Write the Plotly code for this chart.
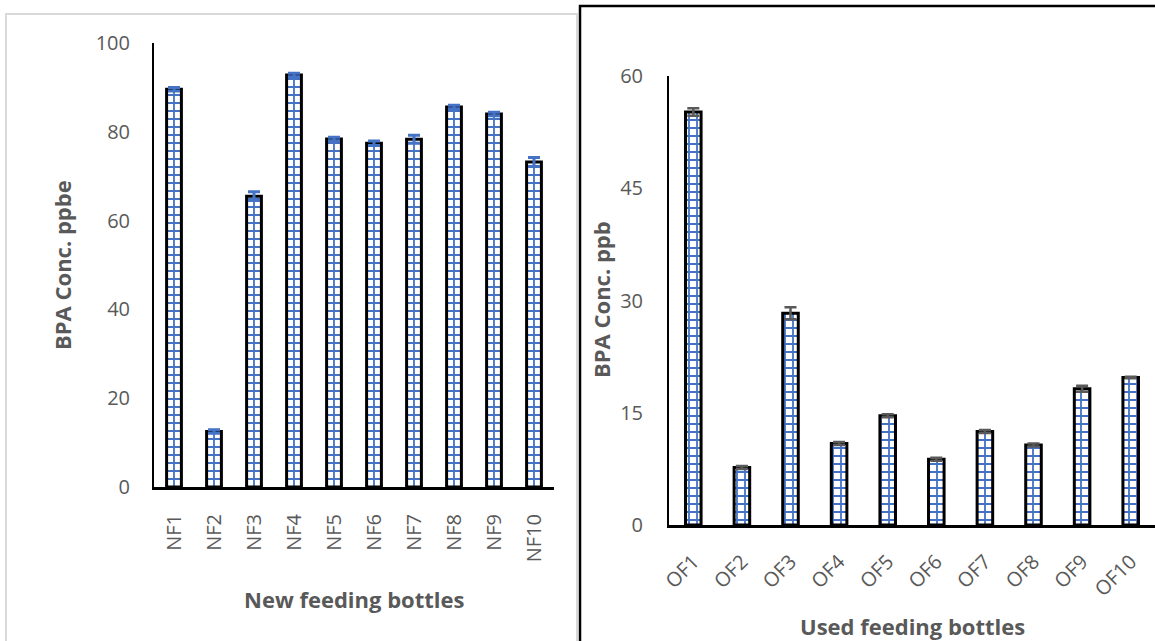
import plotly.graph_objects as go

# ---- data ----
new_labels = ["NF1", "NF2", "NF3", "NF4", "NF5", "NF6", "NF7", "NF8", "NF9", "NF10"]
new_values = [89.6, 12.5, 65.5, 92.8, 78.4, 77.4, 78.3, 85.6, 84.0, 73.2]
new_errors = [0.4, 0.4, 1.0, 0.4, 0.4, 0.5, 0.9, 0.4, 0.4, 1.0]

used_labels = ["OF1", "OF2", "OF3", "OF4", "OF5", "OF6", "OF7", "OF8", "OF9", "OF10"]
used_values = [55.2, 7.7, 28.3, 10.9, 14.6, 8.8, 12.5, 10.7, 18.2, 19.7]
used_errors = [0.5, 0.2, 0.8, 0.2, 0.2, 0.2, 0.2, 0.2, 0.4, 0.1]

left_yticks = [0, 20, 40, 60, 80, 100]
right_yticks = [0, 15, 30, 45, 60]

W, H = 1155, 641
FONT = "Open Sans, Liberation Sans, sans-serif"
GRAY = "#595959"
BLUE = "#4472C4"

def px_x(x):
    return x / W

def px_y(y):
    return (H - y) / H

pattern = dict(shape="+", fgcolor=BLUE, bgcolor="white", size=8, solidity=0.4, fillmode="replace")

fig = go.Figure()
fig.add_trace(go.Bar(
    x=new_labels, y=new_values, xaxis="x", yaxis="y",
    width=0.37,
    marker=dict(color="white", pattern=pattern, line=dict(color="black", width=3)),
    error_y=dict(type="data", array=new_errors, visible=True, color=BLUE, thickness=3, width=6),
    showlegend=False,
))
fig.add_trace(go.Bar(
    x=used_labels, y=used_values, xaxis="x2", yaxis="y2",
    width=0.32,
    marker=dict(color="white", pattern=pattern, line=dict(color="black", width=3)),
    error_y=dict(type="data", array=used_errors, visible=True, color=GRAY, thickness=2.5, width=6),
    showlegend=False,
))

tickfont = dict(family=FONT, size=20, color=GRAY)
titlefont = dict(family=FONT, size=22, color=GRAY)

def title(text, x, y, angle=0):
    return dict(text="<b>%s</b>" % text, xref="paper", yref="paper", x=px_x(x), y=px_y(y),
                xanchor="center", yanchor="middle", textangle=angle, showarrow=False, font=titlefont)

fig.update_layout(
    width=W, height=H,
    margin=dict(l=0, r=0, t=0, b=0, autoexpand=False),
    paper_bgcolor="white", plot_bgcolor="rgba(0,0,0,0)",
    xaxis=dict(domain=[px_x(154), px_x(554)], anchor="y", showline=True, linecolor="black", linewidth=3,
               showgrid=False, zeroline=False, tickangle=-90, tickfont=tickfont, ticks="",
               ticklabelstandoff=16, automargin=False),
    yaxis=dict(domain=[px_y(487), px_y(43)], anchor="x", range=[0, 100], tickvals=left_yticks,
               showline=True, linecolor="black", linewidth=2, showgrid=False, zeroline=False,
               tickfont=tickfont, ticks="", ticklabelstandoff=18, automargin=False),
    xaxis2=dict(domain=[px_x(669), 1.0], anchor="y2", showline=True, linecolor="black", linewidth=3,
                showgrid=False, zeroline=False, tickangle=-45, tickfont=tickfont, ticks="",
                ticklabelstandoff=14, automargin=False),
    yaxis2=dict(domain=[px_y(525), px_y(76)], anchor="x2", range=[0, 60], tickvals=right_yticks,
                showline=True, linecolor="black", linewidth=2, showgrid=False, zeroline=False,
                tickfont=tickfont, ticks="", ticklabelstandoff=20, automargin=False),
    shapes=[
        dict(type="rect", xref="paper", yref="paper", x0=px_x(6), x1=px_x(577), y0=-0.02, y1=px_y(14),
             line=dict(color="#D9D9D9", width=2), fillcolor="rgba(0,0,0,0)", layer="below"),
        dict(type="rect", xref="paper", yref="paper", x0=px_x(580), x1=1.02, y0=-0.02, y1=px_y(6),
             line=dict(color="black", width=2.5), fillcolor="rgba(0,0,0,0)", layer="below"),
    ],
    annotations=[
        title("BPA Conc. ppbe", 62, 265, -90),
        title("New feeding bottles", 354, 599),
        title("BPA Conc. ppb", 601, 300, -90),
        title("Used feeding bottles", 912, 626),
    ],
)

fig.write_html("out.html")
